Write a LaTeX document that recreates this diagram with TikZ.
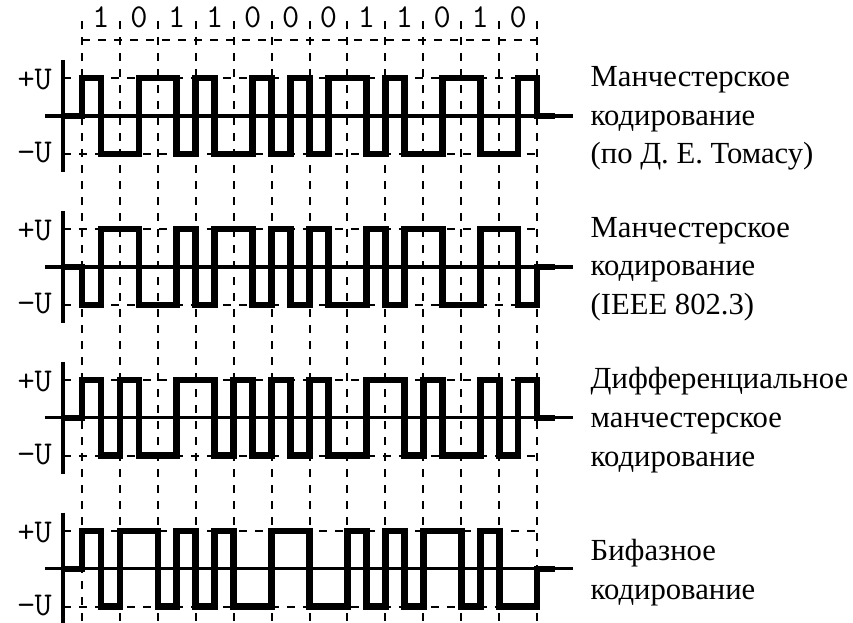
\documentclass[tikz,border=0pt]{standalone}
\usepackage{fontspec}
\setmainfont{Liberation Serif}

\begin{document}
\begin{tikzpicture}[x=0.5cm, y=0.5cm,
		grid/.style={line width=0.75pt, dash pattern=on 3pt off 3pt},
		signal/.style={line width=2.5pt, line join=miter},
		axis/.style={line width=1.2pt},
		level/.style={font=\ttfamily\fontsize{12.5}{14}\selectfont, anchor=east, inner sep=0pt},
		bit/.style={font=\ttfamily\fontsize{12.5}{14}\selectfont, inner sep=0pt},
		codename/.style={font=\fontsize{11.5}{14.6}\selectfont, align=left, anchor=west, inner sep=0pt}]
		\def\gap{3.98}
		% half-bit levels of the four codes
		\def\seqA{1,-1,-1,1,1,-1,1,-1,-1,1,-1,1,-1,1,1,-1,1,-1,-1,1,1,-1,-1,1}
		\def\seqB{-1,1,1,-1,-1,1,-1,1,1,-1,1,-1,1,-1,-1,1,-1,1,1,-1,-1,1,1,-1}
		\def\seqC{1,-1,1,-1,-1,1,1,-1,1,-1,1,-1,1,-1,-1,1,1,-1,1,-1,-1,1,-1,1}
		\def\seqD{1,-1,1,1,-1,1,-1,1,-1,-1,1,1,-1,-1,1,-1,1,-1,1,1,-1,1,-1,-1}
		\useasboundingbox (-2.162,3.059) rectangle (20.33,-13.344);
		% data bits and clock grid
		\foreach \b [count=\i] in {1,0,1,1,0,0,0,1,1,0,1,0}
			\node[bit] (bit\i) at (\i-0.5,2.61) {\b};
		\draw[grid] (0,2) -- (12,2);
		\foreach \i in {0,...,12}
			\draw[grid] (\i,2.5) -- (\i,-13.5);
		% axes, levels and level labels
		\foreach \r in {1,...,4} {
			\pgfmathsetmacro{\y}{-(\r-1)*\gap}
			\draw[grid] (-0.5,\y+1) -- (12,\y+1);
			\draw[grid] (-0.5,\y-1) -- (12,\y-1);
			\draw[axis] (-0.5,\y+1.48) -- (-0.5,\y-1.48);
			\draw[axis] (-0.98,\y) -- (12.95,\y);
			\node[level] (pU\r) at (-0.78,\y+0.97) {+U};
			\node[level] (mU\r) at (-0.78,\y-0.97) {−U};
		}
		% signals
		\draw[signal] (-0.45,0) -- (0,0) foreach \l [count=\i] in \seqA { -- ({(\i-1)/2},\l) -- ({\i/2},\l) } -- (12,0) -- (12.47,0);
		\begin{scope}[shift={(0,-\gap)}]
			\draw[signal] (-0.45,0) -- (0,0) foreach \l [count=\i] in \seqB { -- ({(\i-1)/2},\l) -- ({\i/2},\l) } -- (12,0) -- (12.47,0);
		\end{scope}
		\begin{scope}[shift={(0,-2*\gap)}]
			\draw[signal] (-0.45,0) -- (0,0) foreach \l [count=\i] in \seqC { -- ({(\i-1)/2},\l) -- ({\i/2},\l) } -- (12,0) -- (12.47,0);
		\end{scope}
		\begin{scope}[shift={(0,-3*\gap)}]
			\draw[signal] (-0.45,0) -- (0,0) foreach \l [count=\i] in \seqD { -- ({(\i-1)/2},\l) -- ({\i/2},\l) } -- (12,0) -- (12.47,0);
		\end{scope}
		% code names
		\node[codename] (name1) at (13.4,-0.06) {Манчестерское\\кодирование\\(по Д. Е. Томасу)};
		\node[codename] (name2) at (13.4,{-\gap-0.06}) {Манчестерское\\кодирование\\(IEEE 802.3)};
		\node[codename] (name3) at (13.4,{-2*\gap-0.06}) {Дифференциальное\\манчестерское\\кодирование};
		\node[codename] (name4) at (13.4,{-3*\gap-0.1}) {Бифазное\\кодирование};
	\end{tikzpicture}
\end{document}
